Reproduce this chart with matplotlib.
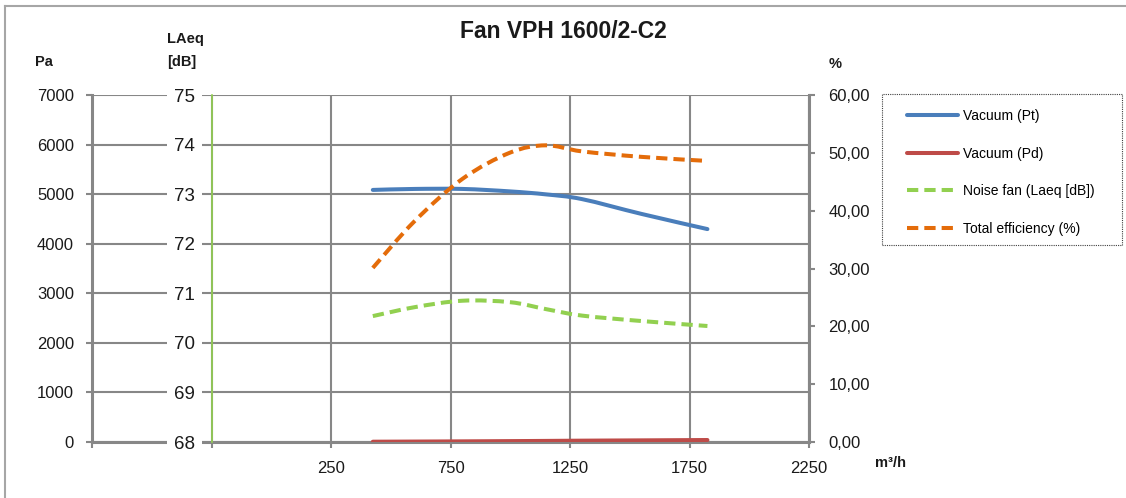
import matplotlib
matplotlib.use("Agg")
import matplotlib.pyplot as plt
from matplotlib.path import Path
from matplotlib.patches import PathPatch, Rectangle
from matplotlib.lines import Line2D
from matplotlib.ticker import FuncFormatter

# ---------------- data ----------------
flow = [425, 600, 800, 1000, 1150, 1300, 1550, 1825]                  # m3/h
vacuum_pt = [5085, 5105, 5105, 5055, 4995, 4900, 4600, 4295]          # Pa
vacuum_pd = [6, 9, 13, 18, 22, 27, 33, 40]                            # Pa
noise_laeq = [70.54, 70.72, 70.85, 70.82, 70.68, 70.55, 70.44, 70.34] # dB
efficiency = [30.1, 38.2, 45.5, 50.05, 51.3, 50.25, 49.3, 48.6]       # %

series_names = ["Vacuum (Pt)", "Vacuum (Pd)", "Noise fan (Laeq [dB])", "Total efficiency (%)"]
x_ticks = [-750, -250, 250, 750, 1250, 1750, 2250]
x_tick_labels = ["", "", "250", "750", "1250", "1750", "2250"]
pa_ticks = [0, 1000, 2000, 3000, 4000, 5000, 6000, 7000]
db_ticks = [68, 69, 70, 71, 72, 73, 74, 75]
pct_ticks = [0, 10, 20, 30, 40, 50, 60]

title = "Fan VPH 1600/2-C2"

# ---------------- style ----------------
W, H = 1126, 498
C_BLUE = "#4A7EBB"
C_RED = "#BE4B48"
C_GREEN = "#92D050"
C_ORANGE = "#E46C0A"
C_GRID = "#878787"
C_TXT = "#1a1a1a"
FONT = "Liberation Sans"
plt.rcParams["font.family"] = [FONT, "DejaVu Sans"]


def fx(px):
    return px / W


def fy(py):
    return 1 - py / H


def smooth_path(xs, ys):
    """Excel-like smoothed line as cubic Bezier segments through the data points."""
    pts = list(zip(xs, ys))
    n = len(pts)
    verts = [pts[0]]
    codes = [Path.MOVETO]
    for i in range(n - 1):
        p0 = pts[i - 1] if i > 0 else pts[i]
        p1 = pts[i]
        p2 = pts[i + 1]
        p3 = pts[i + 2] if i + 2 < n else pts[i + 1]
        c1 = (p1[0] + (p2[0] - p0[0]) / 6, p1[1] + (p2[1] - p0[1]) / 6)
        c2 = (p2[0] - (p3[0] - p1[0]) / 6, p2[1] - (p3[1] - p1[1]) / 6)
        verts += [c1, c2, p2]
        codes += [Path.CURVE4] * 3
    return Path(verts, codes)


fig = plt.figure(figsize=(W / 100, H / 100), dpi=100)
fig.patch.set_facecolor("white")

ax = fig.add_axes([fx(92), fy(442), fx(809) - fx(92), fy(95) - fy(442)])
ax.set_facecolor("none")
ax.set_xlim(-750, 2250)
ax.set_ylim(0, 7000)
ax.set_xticks(x_ticks, x_tick_labels)
ax.set_yticks(pa_ticks, [str(v) for v in pa_ticks])
ax.grid(True, color=C_GRID, linewidth=1.5)
ax.set_axisbelow(True)
for s in ["top", "right"]:
    ax.spines[s].set_visible(False)
for s in ["left", "bottom"]:
    ax.spines[s].set_color(C_GRID)
    ax.spines[s].set_linewidth(2.2)
ax.tick_params(axis="y", length=4.5, width=1.5, color=C_GRID, pad=8.5,
               labelsize=12, labelcolor=C_TXT)
ax.tick_params(axis="x", length=4, width=1.5, color=C_GRID, pad=10,
               labelsize=12, labelcolor=C_TXT)

lw = 2.9
dash = (0, (2.8, 1.5))
ax.add_patch(PathPatch(smooth_path(flow, vacuum_pt), fill=False, edgecolor=C_BLUE,
                       linewidth=lw, capstyle="round", joinstyle="round", zorder=3))
ax.add_patch(PathPatch(smooth_path(flow, vacuum_pd), fill=False, edgecolor=C_RED,
                       linewidth=lw, capstyle="round", joinstyle="round", zorder=3))

# LAeq axis
ax2 = ax.twinx()
ax2.set_ylim(68, 75)
for s in ["top", "right", "bottom"]:
    ax2.spines[s].set_visible(False)
ax2.spines["left"].set_visible(True)
ax2.spines["left"].set_position(("data", -250))
ax2.spines["left"].set_color(C_GREEN)
ax2.spines["left"].set_linewidth(1.2)
ax2.yaxis.set_ticks_position("left")
ax2.set_yticks(db_ticks, [str(v) for v in db_ticks])
ax2.tick_params(axis="y", left=True, right=False, labelleft=True, labelright=False,
                length=0, pad=12, labelsize=13.5, labelcolor=C_TXT)
for lbl in ax2.get_yticklabels():
    lbl.set_bbox(dict(facecolor="white", edgecolor="none", pad=5))
ax2.add_patch(PathPatch(smooth_path(flow, noise_laeq), fill=False, edgecolor=C_GREEN,
                        linewidth=lw, linestyle=dash, capstyle="butt", zorder=3))

# % axis
ax3 = ax.twinx()
ax3.set_ylim(0, 60)
for s in ["top", "left", "bottom"]:
    ax3.spines[s].set_visible(False)
ax3.spines["right"].set_color(C_GRID)
ax3.spines["right"].set_linewidth(2.2)
ax3.set_yticks(pct_ticks)
ax3.yaxis.set_major_formatter(FuncFormatter(lambda v, p: f"{v:.2f}".replace(".", ",")))
ax3.tick_params(axis="y", length=4.5, width=1.5, color=C_GRID, pad=9.5,
                labelsize=12, labelcolor=C_TXT)
ax3.add_patch(PathPatch(smooth_path(flow, efficiency), fill=False, edgecolor=C_ORANGE,
                        linewidth=lw, linestyle=dash, capstyle="butt", zorder=3))

# titles / axis names
fig.text(fx(563), fy(32), title, ha="center", va="center", fontsize=16.5,
         fontweight="bold", color=C_TXT)
fig.text(fx(44), fy(62), "Pa", ha="center", va="center", fontsize=10.5,
         fontweight="bold", color=C_TXT)
fig.text(fx(167), fy(39), "LAeq", ha="left", va="center", fontsize=10.5,
         fontweight="bold", color=C_TXT)
fig.text(fx(167), fy(62), "[dB]", ha="left", va="center", fontsize=10.5,
         fontweight="bold", color=C_TXT)
fig.text(fx(829), fy(64), "%", ha="left", va="center", fontsize=10.5,
         fontweight="bold", color=C_TXT)
fig.text(fx(875), fy(463), "m³/h", ha="left", va="center", fontsize=10.5,
         fontweight="bold", color=C_TXT)

# legend
handles = [
    Line2D([], [], color=C_BLUE, linewidth=lw, solid_capstyle="round"),
    Line2D([], [], color=C_RED, linewidth=lw, solid_capstyle="round"),
    Line2D([], [], color=C_GREEN, linewidth=lw, linestyle=dash),
    Line2D([], [], color=C_ORANGE, linewidth=lw, linestyle=dash),
]
fig.legend(handles, series_names, loc="upper left", bbox_to_anchor=(fx(907), fy(109)),
           frameon=False, fontsize=10, handlelength=3.7, handletextpad=0.35,
           labelspacing=1.7, borderpad=0, borderaxespad=0)
fig.patches.append(Rectangle((fx(882), fy(245)), fx(1122) - fx(882), fy(94) - fy(245),
                             transform=fig.transFigure, fill=False, edgecolor="#404040",
                             linewidth=0.8, linestyle=(0, (1, 1))))

# outer chart border
fig.lines.append(Line2D([fx(5), 1], [fy(6), fy(6)], transform=fig.transFigure,
                        color="#A6A6A6", linewidth=1.5))
fig.lines.append(Line2D([fx(5), fx(5)], [fy(6), 0], transform=fig.transFigure,
                        color="#A6A6A6", linewidth=1.5))

fig.savefig("out.png", dpi=100)
